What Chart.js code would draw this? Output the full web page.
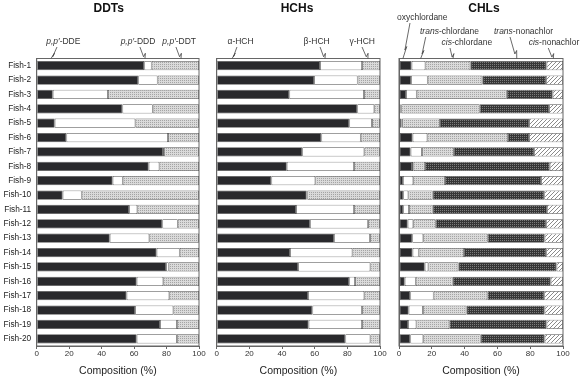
<!DOCTYPE html>
<html>
<head>
<meta charset="utf-8">
<script src="https://cdn.jsdelivr.net/npm/chart.js@4.4.0/dist/chart.umd.min.js"></script>
<style>
  html, body { margin: 0; padding: 0; background: #fff; }
  body { width: 584px; height: 377px; position: relative; overflow: hidden; }
  canvas { position: absolute; top: 0; }
</style>
</head>
<body>
<canvas id="ddt" style="left:0px" width="210" height="377"></canvas>
<canvas id="hch" style="left:205px" width="185" height="377"></canvas>
<canvas id="chl" style="left:390px" width="194" height="377"></canvas>
<script>
// ---- data (percent composition of each fish) ----
const fish = ["Fish-1", "Fish-2", "Fish-3", "Fish-4", "Fish-5", "Fish-6", "Fish-7", "Fish-8", "Fish-9", "Fish-10",
  "Fish-11", "Fish-12", "Fish-13", "Fish-14", "Fish-15", "Fish-16", "Fish-17", "Fish-18", "Fish-19", "Fish-20"];

const ppDDE = [66.3, 62.6, 9.9, 52.8, 11.1, 18.3, 77.8, 69.0, 46.8, 16.0, 57.0, 77.4, 45.0, 73.9, 79.7, 61.6, 55.4, 60.6, 76.0, 61.6];
const ppDDD = [4.5, 11.9, 34.0, 18.7, 49.7, 62.6, 0.6, 6.6, 6.2, 11.7, 5.0, 9.5, 24.4, 14.2, 1.6, 16.4, 26.3, 23.6, 10.4, 24.8];
const ppDDT = [29.2, 25.5, 56.1, 28.5, 39.2, 19.1, 21.6, 24.4, 47.0, 72.3, 38.0, 13.1, 30.6, 11.9, 18.7, 22.0, 18.3, 15.8, 13.6, 13.6];

const aHCH = [63.3, 59.6, 44.5, 86.1, 81.2, 64.1, 52.4, 42.9, 33.5, 55.1, 48.6, 57.1, 71.8, 44.9, 49.8, 81.2, 55.9, 58.6, 56.3, 78.8];
const bHCH = [25.7, 26.7, 45.7, 10.4, 13.9, 24.1, 38.0, 41.2, 26.9, 0.4, 35.5, 35.6, 22.1, 38.2, 44.3, 3.5, 34.5, 30.4, 32.7, 15.3];
const gHCH = [11.0, 13.7, 9.8, 3.5, 4.9, 11.8, 9.6, 15.9, 39.6, 44.5, 15.9, 7.3, 6.1, 16.9, 5.9, 15.3, 9.6, 11.0, 11.0, 5.9];

const oxyChl = [7.7, 7.3, 4.3, 0.8, 1.6, 8.3, 7.1, 7.9, 2.4, 2.6, 2.6, 5.3, 8.1, 8.3, 15.7, 3.5, 6.9, 5.9, 5.5, 6.9];
const transChl = [8.4, 10.2, 6.5, 0.6, 0.3, 9.0, 6.9, 1.0, 6.3, 3.1, 3.5, 3.4, 6.7, 3.7, 2.2, 6.7, 14.2, 8.7, 5.1, 7.9];
const cisChl = [27.4, 33.3, 54.9, 47.8, 23.1, 49.2, 19.5, 7.0, 19.3, 14.8, 14.4, 13.7, 39.3, 27.6, 18.3, 22.5, 32.8, 26.5, 20.1, 35.0];
const transNon = [46.5, 38.8, 28.0, 42.3, 54.3, 12.8, 48.8, 76.0, 58.6, 68.1, 69.7, 67.2, 34.7, 50.2, 59.9, 59.8, 34.7, 47.7, 59.3, 39.0];
const cisNon = [10.0, 10.4, 6.3, 8.3, 20.7, 20.7, 17.7, 8.1, 13.4, 11.4, 9.8, 10.4, 11.2, 10.2, 3.9, 7.5, 11.4, 11.2, 10.0, 11.2];

// pointer labels: text parts [string, italic], label centre (%), pointer top (%), pointer target (%), text y
const ddtLabels = [
  [[["p,p′", true], ["-DDE", false]], 16.4, 12.5, 8.8, 42],
  [[["p,p′", true], ["-DDD", false]], 62.4, 63.6, 66.7, 42],
  [[["p,p′", true], ["-DDT", false]], 87.8, 85.8, 88.9, 42]
];
const hchLabels = [
  [[["α-HCH", false]], 14.6, 12.4, 9.4, 42],
  [[["β-HCH", false]], 61.2, 63.3, 66.3, 42],
  [[["γ-HCH", false]], 89.1, 89.0, 92.6, 42]
];
const chlLabels = [
  [[["oxychlordane", false]], 14.2, 6.7, 2.4, 18],
  [[["trans", true], ["-chlordane", false]], 30.8, 16.3, 13.2, 32],
  [[["cis", true], ["-chlordane", false]], 41.4, 31.1, 32.9, 43],
  [[["trans", true], ["-nonachlor", false]], 75.9, 67.7, 71.8, 32],
  [[["cis", true], ["-nonachlor", false]], 94.5, 91.0, 94.1, 43]
];

const FONT = '"Liberation Sans", Arial, sans-serif';

// ---- fills ----
function makePattern(w, h, draw) {
  const c = document.createElement('canvas');
  c.width = w; c.height = h;
  const x = c.getContext('2d');
  draw(x);
  return x.createPattern(c, 'repeat');
}
const black = '#29292c';
const white = '#ffffff';
const lightDots = makePattern(2, 2, x => {
  x.fillStyle = '#dadada'; x.fillRect(0, 0, 2, 2);
  x.fillStyle = '#a4a4a4'; x.fillRect(0, 0, 1, 1);
});
const darkDots = makePattern(2, 2, x => {
  x.fillStyle = '#363636'; x.fillRect(0, 0, 2, 2);
  x.fillStyle = '#7c7c7c'; x.fillRect(0, 0, 1, 1);
});
const hatch = makePattern(4, 4, x => {
  x.fillStyle = '#ffffff'; x.fillRect(0, 0, 4, 4);
  x.strokeStyle = '#8a8a8a'; x.lineWidth = 1;
  x.beginPath();
  x.moveTo(0, 4); x.lineTo(4, 0);
  x.moveTo(-1, 1); x.lineTo(1, -1);
  x.moveTo(3, 5); x.lineTo(5, 3);
  x.stroke();
});

// ---- plugins ----
const framePlugin = {
  id: 'frame',
  afterDatasetsDraw(chart) {
    const a = chart.chartArea, ctx = chart.ctx;
    ctx.save();
    ctx.strokeStyle = '#666';
    ctx.lineWidth = 1;
    ctx.strokeRect(a.left, a.top, a.right - a.left, a.bottom - a.top);
    ctx.restore();
  }
};

function drawRich(ctx, parts, cx, y) {
  const widths = parts.map(p => {
    ctx.font = (p[1] ? 'italic ' : '') + '8.5px ' + FONT;
    return ctx.measureText(p[0]).width;
  });
  let x = cx - widths.reduce((s, w) => s + w, 0) / 2;
  parts.forEach((p, i) => {
    ctx.font = (p[1] ? 'italic ' : '') + '8.5px ' + FONT;
    ctx.fillText(p[0], x, y);
    x += widths[i];
  });
}

function pointerPlugin(title, titlePos, labels) {
  return {
    id: 'pointers',
    afterDraw(chart) {
      const ctx = chart.ctx, xs = chart.scales.x, top = chart.chartArea.top;
      ctx.save();
      ctx.fillStyle = '#111';
      ctx.font = 'bold 12px ' + FONT;
      ctx.textAlign = 'center';
      ctx.textBaseline = 'middle';
      ctx.fillText(title, xs.getPixelForValue(titlePos), 9);
      ctx.textAlign = 'left';
      ctx.fillStyle = '#333';
      labels.forEach(l => {
        drawRich(ctx, l[0], xs.getPixelForValue(l[1]), l[4]);
        const x0 = xs.getPixelForValue(l[2]), y0 = l[4] + 5;
        const x1 = xs.getPixelForValue(l[3]), y1 = top;
        const mx = x0 + (x1 - x0) * 0.72, my = y0 + (y1 - y0) * 0.72;
        ctx.strokeStyle = '#444';
        ctx.lineWidth = 0.8;
        ctx.beginPath();
        ctx.moveTo(x0, y0);
        ctx.lineTo(mx, my + 1.5);
        ctx.lineTo(mx + 1.8, my - 2);
        ctx.lineTo(x1, y1);
        ctx.stroke();
      });
      ctx.restore();
    }
  };
}

function panel(id, series, fills, opt) {
  return new Chart(id, {
    type: 'bar',
    data: {
      labels: fish,
      datasets: series.map((d, i) => ({
        data: d,
        backgroundColor: fills[i],
        borderColor: '#555',
        borderWidth: 0.8,
        borderSkipped: false,
        barPercentage: 0.65,
        categoryPercentage: 1
      }))
    },
    options: {
      indexAxis: 'y',
      responsive: false,
      animation: false,
      layout: { padding: { top: 58.5, right: opt.padRight, left: 0, bottom: 0 } },
      plugins: { legend: { display: false }, tooltip: { enabled: false } },
      scales: {
        x: {
          stacked: true, min: 0, max: 100,
          ticks: { stepSize: 20, color: '#333', padding: 0, maxRotation: 0, font: { size: 8, family: FONT } },
          grid: { display: true, drawOnChartArea: false, tickLength: 3, color: '#666' },
          border: { color: '#666' },
          title: { display: true, text: 'Composition (%)', color: '#222', padding: { top: 0, bottom: 0 }, font: { size: 10.5, family: FONT } },
          afterFit(s) { s.height = 31; s.paddingLeft = 0; s.paddingRight = 0; }
        },
        y: {
          stacked: true,
          ticks: { display: opt.showNames, color: '#222', padding: 5.5, font: { size: 8.3, family: FONT } },
          grid: { display: false, drawTicks: false },
          border: { color: '#666' },
          afterFit(s) { s.width = opt.yWidth; }
        }
      }
    },
    plugins: [framePlugin, pointerPlugin(opt.title, opt.titlePos, opt.labels)]
  });
}

panel('ddt', [ppDDE, ppDDD, ppDDT], [black, white, lightDots],
  { title: 'DDTs', titlePos: 44.4, labels: ddtLabels, showNames: true, yWidth: 36.7, padRight: 11 });
panel('hch', [aHCH, bHCH, gHCH], [black, white, lightDots],
  { title: 'HCHs', titlePos: 49.2, labels: hchLabels, showNames: false, yWidth: 11.7, padRight: 10 });
panel('chl', [oxyChl, transChl, cisChl, transNon, cisNon], [black, white, lightDots, darkDots, hatch],
  { title: 'CHLs', titlePos: 51.8, labels: chlLabels, showNames: false, yWidth: 9, padRight: 21 });
</script>
</body>
</html>
